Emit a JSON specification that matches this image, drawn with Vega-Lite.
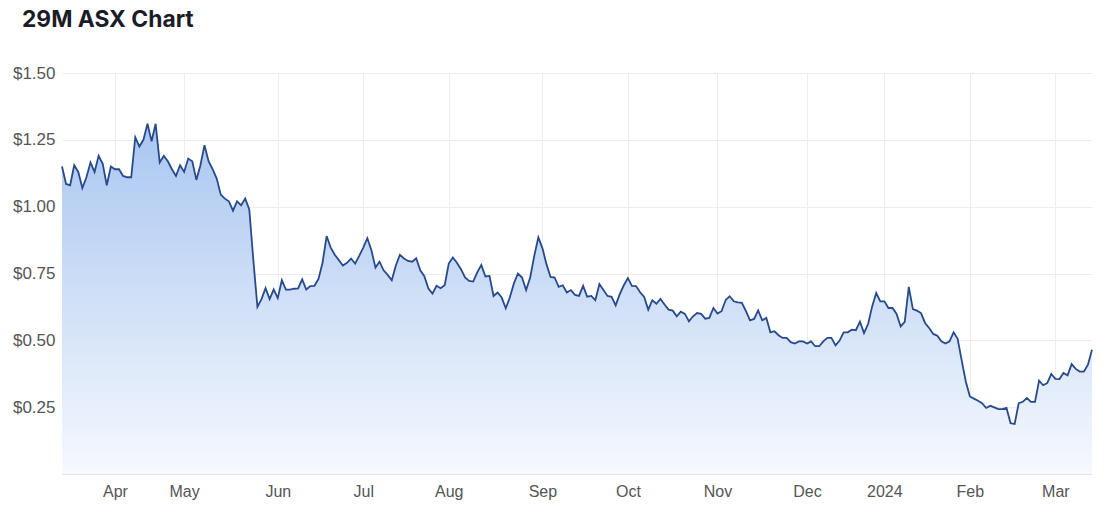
{
  "$schema": "https://vega.github.io/schema/vega-lite/v6.json",
  "width": 1030,
  "height": 401,
  "autosize": "none",
  "padding": {"left": 62, "top": 73, "right": 22, "bottom": 37},
  "background": "white",
  "title": {"text": "29M ASX Chart", "anchor": "start", "frame": "group", "dx": -40, "offset": 32, "font": "Inter", "fontSize": 22.8, "fontWeight": 700, "color": "#1c1c28"},
  "config": {"view": {"stroke": null}},
  "data": {"values": [
    {"date":"2023-03-15","close":1.15},{"date":"2023-03-16","close":1.085},{"date":"2023-03-17","close":1.08},{"date":"2023-03-20","close":1.155},{"date":"2023-03-21","close":1.13},{"date":"2023-03-22","close":1.07},{"date":"2023-03-23","close":1.11},{"date":"2023-03-24","close":1.165},{"date":"2023-03-27","close":1.13},{"date":"2023-03-28","close":1.19},{"date":"2023-03-29","close":1.16},{"date":"2023-03-30","close":1.08},{"date":"2023-03-31","close":1.15},
    {"date":"2023-04-03","close":1.14},{"date":"2023-04-04","close":1.14},{"date":"2023-04-05","close":1.115},{"date":"2023-04-06","close":1.11},{"date":"2023-04-11","close":1.11},{"date":"2023-04-12","close":1.26},{"date":"2023-04-13","close":1.225},{"date":"2023-04-14","close":1.25},{"date":"2023-04-17","close":1.31},{"date":"2023-04-18","close":1.245},{"date":"2023-04-19","close":1.31},{"date":"2023-04-20","close":1.165},{"date":"2023-04-21","close":1.19},{"date":"2023-04-24","close":1.17},{"date":"2023-04-26","close":1.14},{"date":"2023-04-27","close":1.115},{"date":"2023-04-28","close":1.155},
    {"date":"2023-05-01","close":1.13},{"date":"2023-05-02","close":1.18},{"date":"2023-05-03","close":1.17},{"date":"2023-05-04","close":1.10},{"date":"2023-05-05","close":1.155},{"date":"2023-05-08","close":1.23},{"date":"2023-05-09","close":1.17},{"date":"2023-05-10","close":1.14},{"date":"2023-05-11","close":1.105},{"date":"2023-05-12","close":1.045},{"date":"2023-05-15","close":1.03},{"date":"2023-05-16","close":1.02},{"date":"2023-05-17","close":0.985},{"date":"2023-05-18","close":1.02},{"date":"2023-05-19","close":1.005},{"date":"2023-05-22","close":1.03},{"date":"2023-05-23","close":0.99},{"date":"2023-05-24","close":0.80},{"date":"2023-05-25","close":0.625},{"date":"2023-05-26","close":0.654},{"date":"2023-05-29","close":0.695},{"date":"2023-05-30","close":0.654},{"date":"2023-05-31","close":0.69},
    {"date":"2023-06-01","close":0.658},{"date":"2023-06-02","close":0.725},{"date":"2023-06-05","close":0.69},{"date":"2023-06-06","close":0.69},{"date":"2023-06-07","close":0.693},{"date":"2023-06-08","close":0.694},{"date":"2023-06-09","close":0.728},{"date":"2023-06-13","close":0.69},{"date":"2023-06-14","close":0.703},{"date":"2023-06-15","close":0.704},{"date":"2023-06-16","close":0.73},{"date":"2023-06-19","close":0.79},{"date":"2023-06-20","close":0.89},{"date":"2023-06-21","close":0.847},{"date":"2023-06-22","close":0.82},{"date":"2023-06-23","close":0.80},{"date":"2023-06-26","close":0.78},{"date":"2023-06-27","close":0.79},{"date":"2023-06-28","close":0.806},{"date":"2023-06-29","close":0.787},{"date":"2023-06-30","close":0.816},
    {"date":"2023-07-03","close":0.847},{"date":"2023-07-04","close":0.882},{"date":"2023-07-05","close":0.837},{"date":"2023-07-06","close":0.772},{"date":"2023-07-07","close":0.794},{"date":"2023-07-10","close":0.762},{"date":"2023-07-11","close":0.745},{"date":"2023-07-12","close":0.725},{"date":"2023-07-13","close":0.78},{"date":"2023-07-14","close":0.82},{"date":"2023-07-17","close":0.806},{"date":"2023-07-18","close":0.797},{"date":"2023-07-19","close":0.794},{"date":"2023-07-20","close":0.807},{"date":"2023-07-21","close":0.762},{"date":"2023-07-24","close":0.74},{"date":"2023-07-25","close":0.694},{"date":"2023-07-26","close":0.675},{"date":"2023-07-27","close":0.704},{"date":"2023-07-28","close":0.695},{"date":"2023-07-31","close":0.706},
    {"date":"2023-08-01","close":0.787},{"date":"2023-08-02","close":0.81},{"date":"2023-08-03","close":0.79},{"date":"2023-08-04","close":0.766},{"date":"2023-08-07","close":0.735},{"date":"2023-08-08","close":0.722},{"date":"2023-08-09","close":0.72},{"date":"2023-08-10","close":0.754},{"date":"2023-08-11","close":0.782},{"date":"2023-08-14","close":0.739},{"date":"2023-08-15","close":0.741},{"date":"2023-08-16","close":0.666},{"date":"2023-08-17","close":0.679},{"date":"2023-08-18","close":0.66},{"date":"2023-08-21","close":0.62},{"date":"2023-08-22","close":0.66},{"date":"2023-08-23","close":0.713},{"date":"2023-08-24","close":0.75},{"date":"2023-08-25","close":0.735},{"date":"2023-08-28","close":0.688},{"date":"2023-08-29","close":0.735},{"date":"2023-08-30","close":0.816},{"date":"2023-08-31","close":0.885},
    {"date":"2023-09-01","close":0.845},{"date":"2023-09-04","close":0.785},{"date":"2023-09-05","close":0.737},{"date":"2023-09-06","close":0.735},{"date":"2023-09-07","close":0.70},{"date":"2023-09-08","close":0.706},{"date":"2023-09-11","close":0.679},{"date":"2023-09-12","close":0.688},{"date":"2023-09-13","close":0.67},{"date":"2023-09-14","close":0.666},{"date":"2023-09-15","close":0.704},{"date":"2023-09-18","close":0.663},{"date":"2023-09-19","close":0.666},{"date":"2023-09-20","close":0.65},{"date":"2023-09-21","close":0.71},{"date":"2023-09-22","close":0.688},{"date":"2023-09-25","close":0.666},{"date":"2023-09-26","close":0.663},{"date":"2023-09-27","close":0.631},{"date":"2023-09-28","close":0.673},{"date":"2023-09-29","close":0.706},
    {"date":"2023-10-02","close":0.733},{"date":"2023-10-03","close":0.704},{"date":"2023-10-04","close":0.703},{"date":"2023-10-05","close":0.68},{"date":"2023-10-06","close":0.662},{"date":"2023-10-09","close":0.615},{"date":"2023-10-10","close":0.65},{"date":"2023-10-11","close":0.637},{"date":"2023-10-12","close":0.655},{"date":"2023-10-13","close":0.634},{"date":"2023-10-16","close":0.615},{"date":"2023-10-17","close":0.611},{"date":"2023-10-18","close":0.59},{"date":"2023-10-19","close":0.607},{"date":"2023-10-20","close":0.599},{"date":"2023-10-23","close":0.571},{"date":"2023-10-24","close":0.59},{"date":"2023-10-25","close":0.602},{"date":"2023-10-26","close":0.599},{"date":"2023-10-27","close":0.581},{"date":"2023-10-30","close":0.584},{"date":"2023-10-31","close":0.621},
    {"date":"2023-11-01","close":0.60},{"date":"2023-11-02","close":0.609},{"date":"2023-11-03","close":0.65},{"date":"2023-11-06","close":0.665},{"date":"2023-11-07","close":0.646},{"date":"2023-11-08","close":0.642},{"date":"2023-11-09","close":0.64},{"date":"2023-11-10","close":0.609},{"date":"2023-11-13","close":0.575},{"date":"2023-11-14","close":0.58},{"date":"2023-11-15","close":0.612},{"date":"2023-11-16","close":0.575},{"date":"2023-11-17","close":0.584},{"date":"2023-11-20","close":0.53},{"date":"2023-11-21","close":0.534},{"date":"2023-11-22","close":0.519},{"date":"2023-11-23","close":0.509},{"date":"2023-11-24","close":0.509},{"date":"2023-11-27","close":0.493},{"date":"2023-11-28","close":0.488},{"date":"2023-11-29","close":0.496},{"date":"2023-11-30","close":0.496},
    {"date":"2023-12-01","close":0.488},{"date":"2023-12-04","close":0.496},{"date":"2023-12-05","close":0.478},{"date":"2023-12-06","close":0.478},{"date":"2023-12-07","close":0.496},{"date":"2023-12-08","close":0.509},{"date":"2023-12-11","close":0.509},{"date":"2023-12-12","close":0.481},{"date":"2023-12-13","close":0.499},{"date":"2023-12-14","close":0.53},{"date":"2023-12-15","close":0.53},{"date":"2023-12-18","close":0.54},{"date":"2023-12-19","close":0.538},{"date":"2023-12-20","close":0.57},{"date":"2023-12-21","close":0.527},{"date":"2023-12-22","close":0.561},{"date":"2023-12-27","close":0.627},{"date":"2023-12-28","close":0.677},{"date":"2023-12-29","close":0.646},
    {"date":"2024-01-02","close":0.646},{"date":"2024-01-03","close":0.621},{"date":"2024-01-04","close":0.621},{"date":"2024-01-05","close":0.599},{"date":"2024-01-08","close":0.552},{"date":"2024-01-09","close":0.569},{"date":"2024-01-10","close":0.70},{"date":"2024-01-11","close":0.617},{"date":"2024-01-12","close":0.611},{"date":"2024-01-15","close":0.602},{"date":"2024-01-16","close":0.565},{"date":"2024-01-17","close":0.546},{"date":"2024-01-18","close":0.524},{"date":"2024-01-19","close":0.517},{"date":"2024-01-22","close":0.496},{"date":"2024-01-23","close":0.488},{"date":"2024-01-24","close":0.496},{"date":"2024-01-25","close":0.53},{"date":"2024-01-29","close":0.506},{"date":"2024-01-30","close":0.424},{"date":"2024-01-31","close":0.346},
    {"date":"2024-02-01","close":0.29},{"date":"2024-02-02","close":0.282},{"date":"2024-02-05","close":0.274},{"date":"2024-02-06","close":0.265},{"date":"2024-02-07","close":0.247},{"date":"2024-02-08","close":0.255},{"date":"2024-02-09","close":0.249},{"date":"2024-02-12","close":0.243},{"date":"2024-02-13","close":0.243},{"date":"2024-02-14","close":0.247},{"date":"2024-02-15","close":0.19},{"date":"2024-02-16","close":0.187},{"date":"2024-02-19","close":0.265},{"date":"2024-02-20","close":0.27},{"date":"2024-02-21","close":0.284},{"date":"2024-02-22","close":0.27},{"date":"2024-02-23","close":0.27},{"date":"2024-02-26","close":0.349},{"date":"2024-02-27","close":0.332},{"date":"2024-02-28","close":0.34},{"date":"2024-02-29","close":0.374},
    {"date":"2024-03-01","close":0.356},{"date":"2024-03-04","close":0.355},{"date":"2024-03-05","close":0.378},{"date":"2024-03-06","close":0.369},{"date":"2024-03-07","close":0.411},{"date":"2024-03-08","close":0.393},{"date":"2024-03-11","close":0.383},{"date":"2024-03-12","close":0.383},{"date":"2024-03-13","close":0.409},{"date":"2024-03-14","close":0.465}
  ]},
  "encoding": {
    "x": {
      "field": "date", "type": "ordinal",
      "scale": {"type": "point", "padding": 0},
      "axis": {
        "title": null,
        "values": ["2023-04-03","2023-05-01","2023-06-01","2023-07-03","2023-08-01","2023-09-01","2023-10-02","2023-11-01","2023-12-01","2024-01-02","2024-02-01","2024-03-01"],
        "labelExpr": "substring(datum.value,5,7) == '01' ? substring(datum.value,0,4) : utcFormat(toDate(datum.value + 'T00:00:00Z'), '%b')",
        "labelAngle": 0, "labelAlign": "center", "labelBaseline": "top",
        "grid": true, "gridColor": "#ececec", "gridWidth": 1,
        "domainColor": "#e2e2e2", "ticks": false, "labelPadding": 9,
        "labelFont": "Liberation Sans", "labelFontSize": 16, "labelColor": "#555555"
      }
    },
    "y": {
      "field": "close", "type": "quantitative",
      "scale": {"domain": [0, 1.5], "nice": false},
      "axis": {
        "title": null,
        "values": [0.25, 0.5, 0.75, 1, 1.25, 1.5],
        "format": "$.2f",
        "grid": true, "gridColor": "#ececec", "gridWidth": 1,
        "domain": false, "ticks": false, "labelPadding": 7,
        "labelFont": "Liberation Sans", "labelFontSize": 17, "labelColor": "#555555"
      }
    }
  },
  "layer": [
    {"mark": {"type": "area", "color": {"gradient": "linear", "x1": 0, "y1": 0, "x2": 0, "y2": 1, "stops": [{"offset": 0, "color": "#a9c6f0"}, {"offset": 1, "color": "#f6f9fe"}]}}},
    {"mark": {"type": "line", "color": "#264a8c", "strokeWidth": 1.8}}
  ]
}
